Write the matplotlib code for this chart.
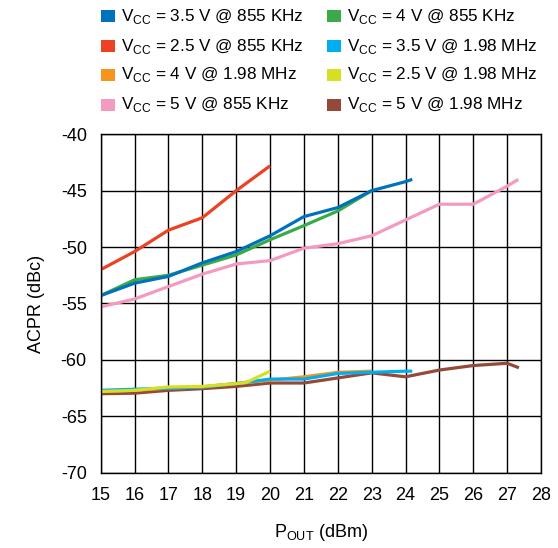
import matplotlib
matplotlib.use("Agg")
import matplotlib.pyplot as plt
from matplotlib.patches import Rectangle

plt.rcParams['font.family'] = ['Liberation Sans', 'DejaVu Sans']
plt.rcParams['mathtext.fontset'] = 'custom'
plt.rcParams['mathtext.rm'] = 'Liberation Sans'
plt.rcParams['axes.unicode_minus'] = False

# Pout (dBm) and ACPR (dBc)
x_855_35 = [15, 16, 17, 18, 19, 20, 21, 22, 23, 24, 24.2]
y_855_35 = [-54.3, -53.2, -52.6, -51.4, -50.4, -49.0, -47.3, -46.5, -45.0, -44.2, -44.0]

x_855_40 = [15, 16, 17, 18, 19, 20, 21, 22, 23]
y_855_40 = [-54.3, -52.9, -52.5, -51.6, -50.7, -49.35, -48.1, -46.8, -45.0]

x_855_25 = [15, 16, 17, 18, 19, 20]
y_855_25 = [-52.0, -50.4, -48.5, -47.4, -45.0, -42.8]

x_855_50 = [15, 16, 17, 18, 19, 20, 21, 22, 23, 24, 25, 26, 27, 27.33]
y_855_50 = [-55.3, -54.6, -53.5, -52.4, -51.5, -51.2, -50.1, -49.7, -49.0, -47.6, -46.2, -46.2, -44.6, -44.0]

x_198_35 = [15, 16, 17, 18, 19, 20, 21, 22, 23, 24, 24.2]
y_198_35 = [-62.7, -62.6, -62.5, -62.4, -62.1, -61.7, -61.7, -61.2, -61.1, -61.0, -61.0]

x_198_40 = [15, 16, 17, 18, 19, 20, 21, 22, 23]
y_198_40 = [-62.8, -62.7, -62.5, -62.4, -62.1, -61.8, -61.5, -61.1, -61.0]

x_198_25 = [15, 16, 17, 18, 19, 19.3, 20]
y_198_25 = [-62.8, -62.7, -62.4, -62.35, -62.1, -62.0, -61.0]

x_198_50 = [15, 16, 17, 18, 19, 20, 21, 22, 23, 24, 25, 26, 27, 27.35]
y_198_50 = [-63.0, -62.95, -62.7, -62.55, -62.35, -62.05, -62.05, -61.6, -61.15, -61.5, -60.9, -60.5, -60.3, -60.7]

labels = [r'V$_\mathregular{CC}$ = 3.5 V @ 855 KHz', r'V$_\mathregular{CC}$ = 4 V @ 855 KHz',
          r'V$_\mathregular{CC}$ = 2.5 V @ 855 KHz', r'V$_\mathregular{CC}$ = 3.5 V @ 1.98 MHz',
          r'V$_\mathregular{CC}$ = 4 V @ 1.98 MHz', r'V$_\mathregular{CC}$ = 2.5 V @ 1.98 MHz',
          r'V$_\mathregular{CC}$ = 5 V @ 855 KHz', r'V$_\mathregular{CC}$ = 5 V @ 1.98 MHz']
colors = ['#0072BC', '#3AAA48', '#EE4023', '#00AEEF', '#F7941D', '#D7DF23', '#F49AC1', '#94493A']

series = [(x_855_35, y_855_35), (x_855_40, y_855_40), (x_855_25, y_855_25), (x_198_35, y_198_35),
          (x_198_40, y_198_40), (x_198_25, y_198_25), (x_855_50, y_855_50), (x_198_50, y_198_50)]

W, H = 558, 548
fig = plt.figure(figsize=(W / 100, H / 100), dpi=100)
ax = fig.add_axes([0.1805, 0.1374, 0.789, 0.6176])

draw_order = [6, 2, 1, 0, 7, 4, 3, 5]
for i in draw_order:
    xs, ys = series[i]
    ax.plot(xs, ys, color=colors[i], lw=2.3, solid_capstyle='butt')

ax.set_xlim(15, 28)
ax.set_ylim(-70, -40)
ax.set_xticks(range(15, 29))
ax.set_yticks(range(-70, -39, 5))
ax.grid(True, color='black', lw=1.0)
ax.set_axisbelow(True)
ax.tick_params(length=0, labelsize=13)
ax.tick_params(axis='y', pad=10)
ax.tick_params(axis='x', pad=10)
for s in ax.spines.values():
    s.set_linewidth(1.0)
    s.set_color('black')

ax.set_xlabel(r'P$_\mathregular{OUT}$ (dBm)', fontsize=13, labelpad=13)
ax.set_ylabel('ACPR (dBc)', fontsize=13, labelpad=11)

# legend: 4 rows x 2 columns, drawn in figure pixels
col_x = [101, 327]
row_y = [16, 46, 75, 105]
for k, lab in enumerate(labels):
    r, c = divmod(k, 2)
    x0 = col_x[c] / W
    y0 = 1 - row_y[r] / H
    fig.patches.append(Rectangle((x0, y0 - 6 / H), 14 / W, 12 / H, transform=fig.transFigure,
                                 facecolor=colors[k], edgecolor='none'))
    fig.text(x0 + 20 / W, y0, lab, fontsize=12.3, va='center', ha='left')

fig.savefig('out.png', dpi=100)
